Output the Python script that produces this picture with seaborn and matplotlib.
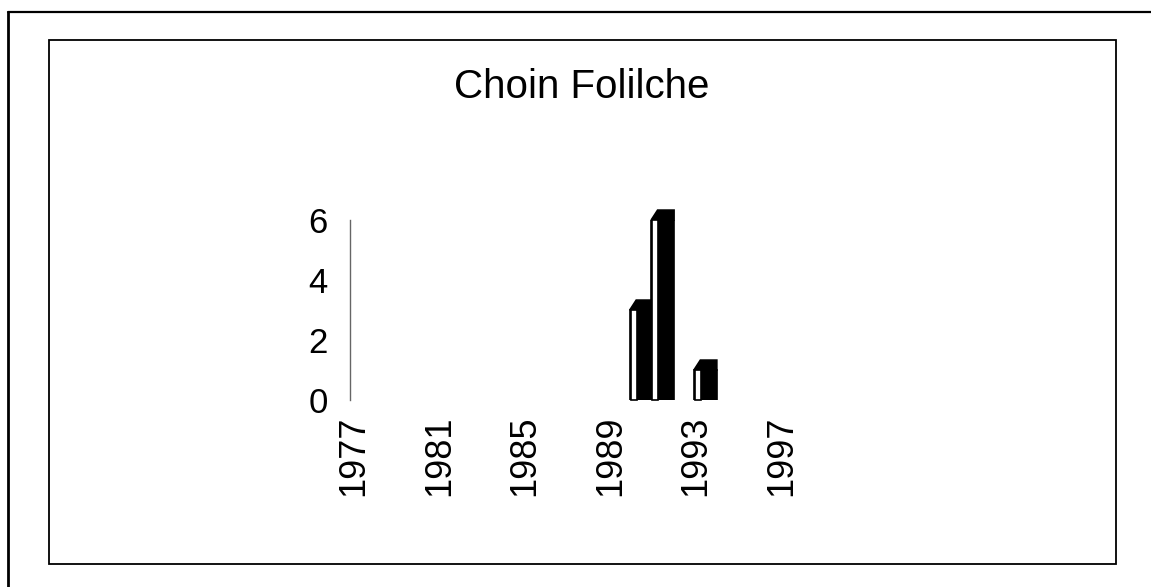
import numpy as np
import pandas as pd
import matplotlib
matplotlib.use("Agg")
import matplotlib.pyplot as plt
import seaborn as sns
from matplotlib.patches import Rectangle, Polygon
from matplotlib.lines import Line2D

# ---- data ----
TITLE = "Choin Folilche"
YEARS = list(range(1977, 1999))
BAR_YEARS = [1990, 1991, 1993]
BAR_VALUES = [3, 6, 1]
YTICKS = [0, 2, 4, 6]
LABEL_YEARS = [1977, 1981, 1985, 1989, 1993, 1997]

counts = [BAR_VALUES[BAR_YEARS.index(y)] if y in BAR_YEARS else 0 for y in YEARS]
df = pd.DataFrame({"year": YEARS, "count": counts})

sns.set_style("white")
plt.rcParams["font.family"] = ["Liberation Sans", "DejaVu Sans"]
plt.rcParams["text.color"] = "black"
plt.rcParams["xtick.color"] = "black"
plt.rcParams["ytick.color"] = "black"

W, H = 1151, 587
fig = plt.figure(figsize=(W / 100, H / 100), dpi=100)

# axes placed in pixel terms of the reference
ax_left, ax_bottom, ax_w, ax_h = 350, 187, 473, 180
ax = fig.add_axes([ax_left / W, ax_bottom / H, ax_w / W, ax_h / H])

sns.barplot(data=df, x="year", y="count", order=YEARS, color="black",
            width=1.07, errorbar=None, saturation=1, ax=ax,
            edgecolor="black", linewidth=1.2)

# fake Excel 3D look: white front strip + slanted top cap
dx, dy = 0.3, 0.33
for p in list(ax.patches):
    v = p.get_height()
    if v <= 0:
        p.set_visible(False)
        continue
    L = p.get_x()
    R = L + p.get_width()
    wf = 0.33
    cap = Polygon([(L, v), (L + dx, v + dy), (R, v + dy), (R, v), (L + wf, v)],
                  closed=True, facecolor="black", edgecolor="black", lw=1.2,
                  clip_on=False)
    ax.add_patch(cap)
    ax.add_patch(Rectangle((L + 0.05, 0), wf - 0.05, v, facecolor="white",
                           edgecolor="black", lw=1.2, clip_on=False))

ax.set_xlim(-0.62, 21.5)
ax.set_ylim(0, 6)
ax.set_yticks(YTICKS)
ax.set_yticklabels([str(t) for t in YTICKS], fontsize=25)
ax.set_xticks([YEARS.index(y) - 0.43 for y in LABEL_YEARS])
ax.set_xticklabels([str(y) for y in LABEL_YEARS], rotation=90, fontsize=26,
                   va="top", ha="center")
ax.tick_params(axis="y", length=0, pad=16)
ax.tick_params(axis="x", length=0, pad=11)
ax.set_xlabel("")
ax.set_ylabel("")
for s in ["top", "right", "bottom"]:
    ax.spines[s].set_visible(False)
ax.spines["left"].set_color("#666666")
ax.spines["left"].set_linewidth(1.0)

fig.text(582 / W, 1 - 98 / H, TITLE, ha="center", va="baseline", fontsize=29)

# scanned page frames
x0, y0 = 8 / W, 1 - 12 / H
fig.add_artist(Line2D([x0, x0], [0, y0], color="black", lw=2.0))
fig.add_artist(Line2D([x0, 1], [y0, y0], color="black", lw=1.6))
fig.add_artist(Rectangle((49 / W, 1 - 564 / H), (1116 - 49) / W, (564 - 40) / H,
                         transform=fig.transFigure, fill=False,
                         edgecolor="black", lw=1.3))

fig.savefig("out.png", dpi=100, facecolor="white")
